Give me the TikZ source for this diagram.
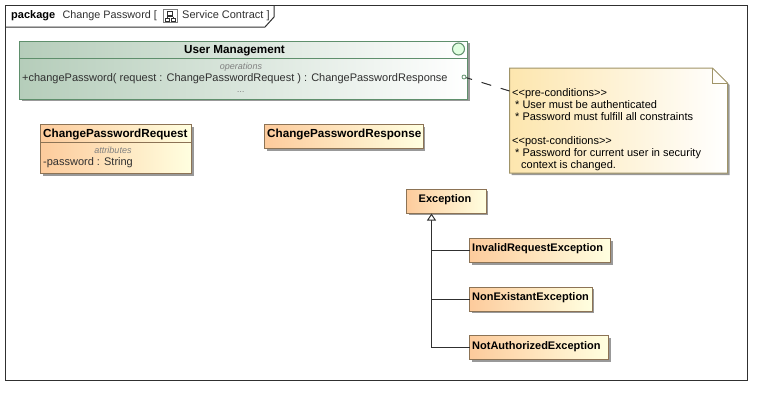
\documentclass[tikz,border=0pt]{standalone}
\usepackage{fontspec}
\setmainfont{Liberation Sans}
\usetikzlibrary{positioning, arrows.meta, backgrounds, shadows}
\definecolor{classline}{HTML}{8C7355}
\definecolor{classfill}{HTML}{FDCB9C}
\definecolor{classend}{HTML}{FFFFE0}
\definecolor{umline}{HTML}{5F8F6C}
\definecolor{umfill}{HTML}{B5CDBA}
\definecolor{noteline}{HTML}{A09468}
\definecolor{notefill}{HTML}{FDE6AE}
\definecolor{itemgray}{HTML}{808080}
\definecolor{txtgray}{HTML}{303030}
\tikzset{
	softshadow/.style={drop shadow={shadow xshift=2pt, shadow yshift=-2pt, fill=black!40, opacity=1}},
	classbox/.style={draw=classline, line width=1pt, left color=classfill, right color=classend, softshadow, anchor=north west, minimum height=24pt, inner sep=0pt, outer sep=0pt},
	title/.style={font=\bfseries\fontsize{11}{12}\selectfont, inner sep=0pt, text=black},
	widetitle/.style={font=\bfseries\fontsize{11.7}{12}\selectfont, inner sep=0pt, text=black},
	item/.style={font=\fontsize{11}{12}\selectfont, inner sep=0pt, text=txtgray},
	tag/.style={font=\itshape\fontsize{9}{10}\selectfont, inner sep=0pt, text=itemgray},
	link/.style={draw=txtgray, line width=1pt},
}
\begin{document}
\begin{tikzpicture}[x=1pt, y=-1pt]
		\useasboundingbox (0,0) rectangle (772,405);
		\node[draw=txtgray, line width=1pt, anchor=north west, minimum width=742pt, minimum height=375pt, inner sep=0pt, outer sep=0pt] (frame) at (5,5) {};
		% tab of the package
		\coordinate (tabtop) at (274,5);
		\coordinate (tabside) at (274,17);
		\coordinate (tabcut) at (265,27);
		\draw[txtgray, line width=1pt] (tabtop) -- (tabside) -- (tabcut) -- (tabcut -| frame.west);
		\node[title, anchor=base west] (pkgword) at (11,18) {package};
		\node[item, font=\fontsize{10.8}{12}\selectfont, right=7pt of pkgword.base east, anchor=base west] (pkgname) {Change Password [};
		\node[draw=itemgray, line width=0.7pt, anchor=north west, minimum width=14pt, minimum height=13pt, inner sep=0pt] (icon) at (163,9) {};
		\draw[txtgray, line width=0.6pt] (167.5,11) rectangle (172.5,15) (165,18) rectangle (169,21) (171,18) rectangle (175,21) (170,15) -- (170,16.5) (167,16.5) -- (173,16.5) (167,16.5) -- (167,18) (173,16.5) -- (173,18);
		\node[item, anchor=base west] (pkgdiag) at (182,18) {Service Contract ]};

		% user management class
		\node[classbox, draw=umline, left color=umfill, right color=white, minimum width=448pt, minimum height=58pt] (um) at (19.5,41) {};
		\coordinate (umleft) at (19.5,58);
		\draw[umline, line width=1pt] (umleft) -- (umleft -| um.east);
		\node[widetitle, anchor=base] (umtitle) at (234.5,53) {User Management};
		\node[draw=umline, line width=1pt, fill=green!12!white, circle, minimum size=12pt, inner sep=0pt] (umcircle) at (458.5,49) {};
		\node[tag, anchor=base] (umtag) at (241,69) {operations};
		\node[item, anchor=base west] (umop) at (22,81) {+changePassword( request : ChangePasswordRequest ) : ChangePasswordResponse};
		\node[tag, anchor=base] (umdots) at (241,92) {...};
		\node[draw=umline, line width=0.8pt, circle, minimum size=4pt, inner sep=0pt] (umport) at (464,77) {};

		% data classes
		\node[classbox, minimum width=151pt, minimum height=49pt] (request) at (40.5,124.5) {};
		\coordinate (reqleft) at (40.5,142);
		\draw[classline, line width=1pt] (reqleft) -- (reqleft -| request.east);
		\node[widetitle, anchor=base west] (reqtitle) at (43,137) {ChangePasswordRequest};
		\node[tag, anchor=base] (reqtag) at (113,153) {attributes};
		\node[item, anchor=base west] (reqattr) at (43,165) {-password : String};
		\node[classbox, minimum width=158.5pt, right=73pt of request.north east, anchor=north west] (response) {};
		\node[widetitle, anchor=base west] (resptitle) at (267,137) {ChangePasswordResponse};

		% exceptions
		\node[classbox, minimum width=79.5pt] (exception) at (406.5,189) {};
		\node[title, anchor=base west] (exctitle) at (418.5,202) {Exception};
		\node[classbox, minimum width=141pt] (invalid) at (469.5,238.5) {};
		\node[title, anchor=base west] (invtitle) at (472,251) {InvalidRequestException};
		\node[classbox, minimum width=122.5pt, below=24.7pt of invalid.south west, anchor=north west] (nonexist) {};
		\node[title, anchor=base west] (nontitle) at (472,300) {NonExistantException};
		\node[classbox, minimum width=139pt, below=24.7pt of nonexist.south west, anchor=north west] (notauth) {};
		\node[title, anchor=base west] (nottitle) at (472,349) {NotAuthorizedException};
		\coordinate (excfoot) at (431.5,213.5);
		\path[link, -{Triangle[open, fill=white, length=7pt, width=9pt]}] (notauth.west) -| (excfoot);
		\path[link] (invalid.west) -- (invalid.west -| excfoot);
		\path[link] (nonexist.west) -- (nonexist.west -| excfoot);

		% note with folded corner
		\node[anchor=north west, minimum width=218pt, minimum height=105pt, inner sep=0pt, outer sep=0pt] (note) at (509.5,68) {};
		\coordinate (foldtop) at (712.5,68);
		\coordinate (foldside) at (727.5,83);
		\coordinate (notehook) at (509.5,91);
		\begin{scope}[on background layer]
			\path[draw=noteline, line width=1pt, left color=notefill, right color=white, softshadow]
				(note.north west) -- (foldtop) -- (foldside) -- (note.south east) -- (note.south west) -- cycle;
			\draw[noteline, line width=1pt] (foldtop) |- (foldside);
		\end{scope}
		\node[anchor=north west, align=left, inner sep=0pt, text=black, font=\fontsize{11}{12}\selectfont] (notetext) at (512,88.5) {%
			<{}<pre-conditions>{}>\\
			\hspace{3pt}* User must be authenticated\\
			\hspace{3pt}* Password must fulfill all constraints\\[12pt]
			<{}<post-conditions>{}>\\
			\hspace{3pt}* Password for current user in security\\
			\hspace{9pt}context is changed.};
		\path[link, draw=txtgray, dash pattern=on 10pt off 10pt, dash phase=4pt] (umport) -- (notehook);
	\end{tikzpicture}
\end{document}
